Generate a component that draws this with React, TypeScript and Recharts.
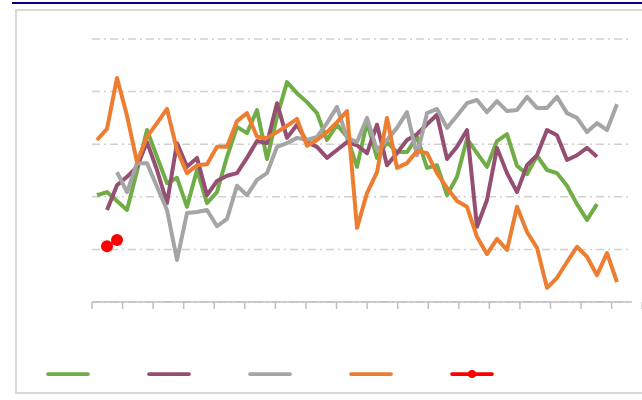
import { CartesianGrid, Line, LineChart, XAxis, YAxis } from "recharts";

const weeks = [
  "W01", "W02", "W03", "W04", "W05", "W06", "W07", "W08", "W09", "W10",
  "W11", "W12", "W13", "W14", "W15", "W16", "W17", "W18", "W19", "W20",
  "W21", "W22", "W23", "W24", "W25", "W26", "W27", "W28", "W29", "W30",
  "W31", "W32", "W33", "W34", "W35", "W36", "W37", "W38", "W39", "W40",
  "W41", "W42", "W43", "W44", "W45", "W46", "W47", "W48", "W49", "W50",
  "W51", "W52", "W53", "W54",
];

const greenVals = [
  20.3, 20.9, 19.2, 17.5, 24.9, 32.7, 27.6, 22.6, 23.6, 18.1,
  25.1, 18.8, 20.9, 27.6, 33.3, 32.1, 36.5, 27.2, 35.2, 41.8,
  39.7, 38.0, 35.9, 30.8, 33.7, 31.4, 25.7, 34.2, 27.4, 30.4,
  28.5, 28.5, 31.4, 25.5, 26.0, 20.3, 23.8, 31.0, 28.3, 25.7,
  30.6, 31.9, 25.9, 24.3, 27.8, 25.1, 24.5, 22.1, 18.6, 15.6, 18.6,
  null, null, null,
];

const purpleVals = [
  null, 17.5, 22.2, 23.8, 25.7, 30.4, 25.1, 18.8, 30.2, 25.7,
  27.4, 20.3, 23.0, 24.0, 24.5, 27.4, 30.6, 30.2, 37.8, 31.2,
  33.7, 30.4, 29.5, 27.4, 28.9, 30.4, 29.8, 28.3, 33.7, 26.0,
  28.3, 30.8, 31.9, 33.8, 35.6, 27.2, 29.5, 32.7, 14.3, 19.4,
  29.3, 24.5, 20.9, 26.0, 27.9, 32.7, 31.7, 27.0, 27.9, 29.3, 27.6,
  null, null, null,
];

const grayVals = [
  null, null, 24.7, 20.9, 26.4, 26.4, 21.9, 17.5, 8.0, 16.9,
  17.1, 17.5, 14.4, 15.8, 22.1, 20.3, 23.2, 24.5, 29.5, 30.2,
  31.2, 30.8, 31.4, 34.0, 37.1, 31.2, 30.4, 35.0, 28.9, 30.8,
  33.1, 36.1, 27.9, 35.9, 36.7, 33.1, 35.4, 37.8, 38.4, 36.1,
  38.2, 36.3, 36.5, 39.0, 36.9, 36.9, 39.0, 35.9, 35.0, 32.3, 34.0, 32.7, 37.6,
  null,
];

const orangeVals = [
  30.8, 32.9, 42.6, 35.4, 26.6, 31.4, 34.0, 36.7, 28.9, 24.5,
  26.0, 26.2, 29.5, 29.5, 34.4, 35.9, 31.4, 31.2, 32.3, 33.5,
  34.8, 29.7, 30.8, 32.3, 34.2, 36.3, 14.1, 20.7, 24.7, 35.0,
  25.5, 26.4, 28.7, 28.3, 24.5, 21.7, 19.2, 18.1, 12.4, 9.1,
  12.0, 9.9, 18.1, 13.3, 10.3, 2.7, 4.6, 7.6, 10.5, 8.6, 5.1, 9.3, 3.8,
  null,
];

// only two points in the red series
const redPoints: Record<string, number> = { W02: 10.6, W03: 11.8 };

const yTicks = [0, 10, 20, 30, 40, 50];
const xTickMarks = [0, 3, 6, 9, 12, 15, 18, 21, 24, 27, 30, 33, 36, 39, 42, 45, 48, 51, 54];

const series = [
  { key: "green", color: "#70ad47" },
  { key: "purple", color: "#954f72" },
  { key: "gray", color: "#a5a5a5" },
  { key: "orange", color: "#ed7d31" },
  { key: "red", color: "#ff0000", marker: true },
];

const data = weeks.map((week, i) => ({
  week,
  green: greenVals[i],
  purple: purpleVals[i],
  gray: grayVals[i],
  orange: orangeVals[i],
  red: redPoints[week] ?? null,
}));

export default function App() {
  return (
    <div style={{ position: "relative", width: 642, height: 400, overflow: "hidden", background: "#fff" }}>
      <style>{`body{margin:0}`}</style>
      <div style={{ position: "absolute", left: 12, top: 2, width: 630, height: 2, background: "#000080" }} />
      <div
        style={{
          position: "absolute",
          left: 15,
          top: 9,
          width: 660,
          height: 381,
          border: "2px solid #d9d9d9",
        }}
      />
      <div style={{ position: "absolute", left: 0, top: 0 }}>
        <LineChart width={642} height={400} data={data} margin={{ top: 39, right: 10, left: 92, bottom: 88 }}>
          <CartesianGrid
            vertical={false}
            stroke="#d0d0d0"
            strokeWidth={1.5}
            strokeDasharray="8 4 2 4"
          />
          <XAxis
            xAxisId="marks"
            type="number"
            domain={[0, 54]}
            allowDataOverflow
            ticks={xTickMarks}
            interval={0}
            tickFormatter={() => ""}
            tickSize={7}
            height={10}
            axisLine={{ stroke: "#bfbfbf", strokeWidth: 1.5 }}
            tickLine={{ stroke: "#bfbfbf", strokeWidth: 1.5 }}
          />
          <XAxis dataKey="week" hide height={0} padding={{ left: 5, right: 5 }} />
          <YAxis hide domain={[0, 50]} ticks={yTicks} />
          {series.map((s) => (
            <Line
              key={s.key}
              dataKey={s.key}
              stroke={s.color}
              strokeWidth={s.marker ? 3 : 4}
              strokeLinejoin="round"
              dot={s.marker ? { r: 6, fill: s.color, stroke: s.color, strokeWidth: 0 } : false}
              activeDot={false}
              isAnimationActive={false}
            />
          ))}
        </LineChart>
      </div>
      <div style={{ position: "absolute", left: 46, top: 370, display: "flex", gap: 57 }}>
        {series.map((s) => (
          <svg key={s.key} width={44} height={8}>
            <line x1={2} y1={4} x2={42} y2={4} stroke={s.color} strokeWidth={3.75} strokeLinecap="round" />
            {s.marker && <circle cx={22} cy={4} r={4} fill={s.color} />}
          </svg>
        ))}
      </div>
    </div>
  );
}
